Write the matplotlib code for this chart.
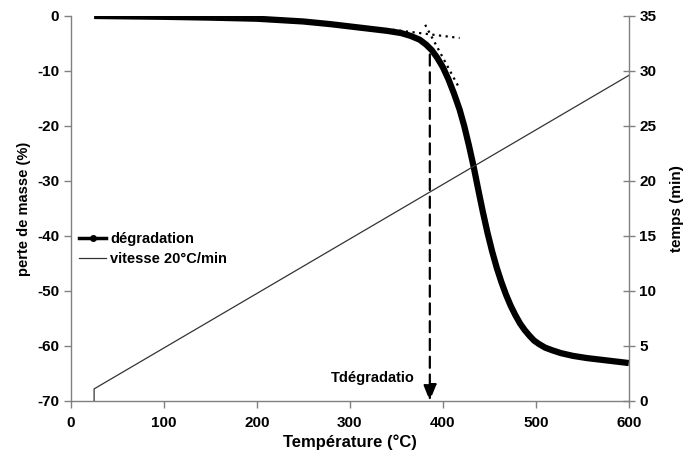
import matplotlib
matplotlib.use("Agg")
import matplotlib.pyplot as plt
from matplotlib.lines import Line2D

plt.rcParams['font.family'] = ['Liberation Sans', 'DejaVu Sans']
plt.rcParams['font.weight'] = 'bold'
plt.rcParams['axes.unicode_minus'] = False

# Degradation curve (mass loss %)
temp_deg = [25, 50, 100, 150, 200, 250, 280, 300, 320, 340, 355, 365, 375, 382, 388, 394,
            400, 406, 412, 418, 423, 428, 433, 438, 443, 448, 453, 458, 463, 468, 473, 478,
            483, 488, 493, 498, 503, 510, 518, 527, 540, 555, 570, 585, 600]
mass_loss = [0, -0.05, -0.15, -0.3, -0.5, -1.0, -1.5, -1.9, -2.3, -2.7, -3.1, -3.6, -4.3,
             -5.2, -6.2, -7.6, -9.3, -11.5, -14.1, -17.0, -20.0, -23.5, -27.3, -31.5, -35.6,
             -39.4, -42.8, -45.8, -48.4, -50.7, -52.7, -54.4, -55.9, -57.1, -58.1, -59.0,
             -59.6, -60.3, -60.8, -61.3, -61.8, -62.2, -62.5, -62.8, -63.1]

# Heating ramp (time in min)
temp_ramp = [25, 25, 600]
time_min = [0, 1.1, 29.6]

# Tangent construction lines
tan1_T = [346, 418]
tan1_v = [-2.5, -4.0]
tan2_T = [381, 417]
tan2_v = [-1.6, -12.9]

t_degradation = 386
t_deg_top = -7

x_ticks = [0, 100, 200, 300, 400, 500, 600]
y_ticks = [0, -10, -20, -30, -40, -50, -60, -70]
y2_ticks = [0, 5, 10, 15, 20, 25, 30, 35]

fig = plt.figure(figsize=(6.88, 4.66), dpi=100)
ax = fig.add_axes([0.103, 0.1395, 0.811, 0.8262])
ax2 = ax.twinx()

grey = '#808080'

l1, = ax.plot(temp_deg, mass_loss, color='black', lw=4.5, solid_capstyle='butt',
              solid_joinstyle='round')
ax.plot(tan1_T, tan1_v, color='black', lw=1.6, linestyle=(0, (1, 2)))
ax.plot(tan2_T, tan2_v, color='black', lw=1.6, linestyle=(0, (1, 2)))
ax.annotate('', xy=(t_degradation, -70), xytext=(t_degradation, t_deg_top),
            arrowprops=dict(arrowstyle='-|>,head_width=0.4,head_length=1.0', color='black',
                            lw=1.6, linestyle=(0, (5, 3)), shrinkA=0, shrinkB=0))
ax.text(370, -65.8, 'Tdégradatio', ha='right', va='center', fontsize=10.5, fontweight='bold')

l2, = ax2.plot(temp_ramp, time_min, color='#333333', lw=0.9)

ax.set_xlim(0, 600)
ax.set_ylim(-70, 0)
ax2.set_ylim(0, 35)
ax.set_xticks(x_ticks)
ax.set_yticks(y_ticks)
ax2.set_yticks(y2_ticks)

for a in (ax, ax2):
    a.spines['top'].set_visible(False)
    for s in ('left', 'bottom', 'right'):
        a.spines[s].set_color(grey)
        a.spines[s].set_linewidth(1.0)
    a.tick_params(colors=grey, labelcolor='black', labelsize=11, width=1.0, length=5)
ax.spines['right'].set_visible(False)
ax2.spines['left'].set_visible(False)
ax2.spines['bottom'].set_visible(False)
ax2.tick_params(axis='y', direction='inout', length=8)
ax.tick_params(axis='x', pad=6)

for lab in ax.get_xticklabels() + ax.get_yticklabels() + ax2.get_yticklabels():
    lab.set_fontweight('bold')

ax.set_xlabel('Température (°C)', fontsize=12, fontweight='bold', labelpad=3)
ax.set_ylabel('perte de masse (%)', fontsize=10.5, fontweight='bold', labelpad=4)
ax2.set_ylabel('temps (min)', fontsize=11, fontweight='bold', labelpad=10)

h1 = Line2D([], [], color='black', lw=2.5, marker='o', markersize=4)
h2 = Line2D([], [], color='#333333', lw=0.9)
leg = ax.legend([h1, h2], ['dégradation', 'vitesse 20°C/min'], loc='upper left',
                bbox_to_anchor=(0.005, 0.455), frameon=False, fontsize=10.5,
                handlelength=1.8, handletextpad=0.3, labelspacing=0.45, borderaxespad=0)
for t in leg.get_texts():
    t.set_fontweight('bold')

fig.savefig('out.png', dpi=100)
